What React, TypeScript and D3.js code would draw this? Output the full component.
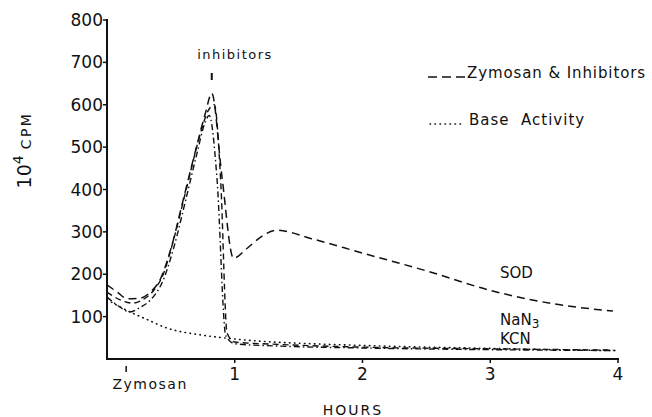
import React, { useRef, useEffect } from "react";
import * as d3 from "d3";

// Axis ticks
const yTicks = [100, 200, 300, 400, 500, 600, 700, 800];
const xTicks = [1, 2, 3, 4];

// Curves (hours, 10^4 CPM)
const sodHours = [0, 0.08, 0.16, 0.25, 0.34, 0.42, 0.5, 0.6, 0.7, 0.77, 0.82, 0.9, 0.99, 1.1, 1.2, 1.33, 1.6, 2.0, 2.5, 3.0, 3.5, 3.96];
const sodValues = [175, 158, 142, 143, 158, 190, 260, 380, 500, 580, 627, 430, 238, 262, 287, 304, 284, 250, 208, 162, 130, 113];

const nanHours = [0, 0.1, 0.2, 0.28, 0.36, 0.44, 0.52, 0.62, 0.72, 0.79, 0.84, 0.89, 0.94, 1.0, 1.3, 2.0, 3.0, 3.96];
const nanValues = [158, 140, 132, 140, 160, 200, 280, 400, 520, 585, 600, 420, 61, 40, 35, 28, 24, 21];

const kcnHours = [0, 0.09, 0.18, 0.26, 0.34, 0.44, 0.52, 0.62, 0.7, 0.77, 0.8, 0.86, 0.93, 1.0, 1.3, 2.0, 3.0, 3.98];
const kcnValues = [146, 125, 111, 122, 139, 186, 260, 380, 480, 560, 575, 430, 55, 36, 31, 26, 22, 20];

const baseHours = [0, 0.18, 0.3, 0.47, 0.73, 0.91, 1.2, 1.6, 2.0, 2.5, 3.0, 3.5, 3.98];
const baseValues = [140, 111, 95, 73, 57, 50, 42, 36, 32, 28, 25, 22, 20];

const zymosanAt = 0.15;
const inhibitorsAt = 0.82;

const FONT = "DejaVu Sans, sans-serif";

export default function App() {
  const svgRef = useRef<SVGSVGElement>(null);

  useEffect(() => {
    drawChart();
  }, []);

  function drawChart() {
    const svg = d3.select(svgRef.current);
    svg.selectAll("*").remove();

    const x = d3.scaleLinear().domain([0, 4]).range([107, 618]);
    const y = d3.scaleLinear().domain([0, 800]).range([359, 20]);

    // axes
    svg.append("line")
      .attr("x1", x(0)).attr("x2", x(0))
      .attr("y1", y(0) + 1).attr("y2", y(800) - 1)
      .attr("stroke", "#111").attr("stroke-width", 2);
    svg.append("line")
      .attr("x1", x(0) - 1).attr("x2", x(4) + 1)
      .attr("y1", y(0)).attr("y2", y(0))
      .attr("stroke", "#111").attr("stroke-width", 2);

    yTicks.forEach((t) => {
      svg.append("line")
        .attr("x1", x(0) - 4).attr("x2", x(0))
        .attr("y1", y(t)).attr("y2", y(t))
        .attr("stroke", "#111").attr("stroke-width", 1.5);
      svg.append("text")
        .attr("x", x(0) - 4)
        .attr("y", y(t) + 6)
        .attr("text-anchor", "end")
        .style("font-family", FONT)
        .style("font-size", "17px")
        .style("fill", "#111")
        .text(t);
    });

    xTicks.forEach((t) => {
      svg.append("line")
        .attr("x1", x(t)).attr("x2", x(t))
        .attr("y1", y(0)).attr("y2", y(0) + 4)
        .attr("stroke", "#111").attr("stroke-width", 1.5);
      svg.append("text")
        .attr("x", x(t))
        .attr("y", y(0) + 21)
        .attr("text-anchor", "middle")
        .style("font-family", FONT)
        .style("font-size", "17px")
        .style("fill", "#111")
        .text(t);
    });

    // zymosan marker
    svg.append("line")
      .attr("x1", x(zymosanAt)).attr("x2", x(zymosanAt))
      .attr("y1", y(0) + 7).attr("y2", y(0) + 13)
      .attr("stroke", "#111").attr("stroke-width", 1.5);
    svg.append("text")
      .attr("x", x(zymosanAt) + 24)
      .attr("y", y(0) + 30)
      .attr("text-anchor", "middle")
      .style("font-family", FONT)
      .style("font-size", "14px")
      .style("letter-spacing", "1.5px")
      .style("fill", "#111")
      .text("Zymosan");

    // inhibitors marker
    svg.append("line")
      .attr("x1", x(inhibitorsAt)).attr("x2", x(inhibitorsAt))
      .attr("y1", 73).attr("y2", 80)
      .attr("stroke", "#111").attr("stroke-width", 2);
    svg.append("text")
      .attr("x", 235)
      .attr("y", 59)
      .attr("text-anchor", "middle")
      .style("font-family", FONT)
      .style("font-size", "13px")
      .style("letter-spacing", "1.5px")
      .style("fill", "#111")
      .text("inhibitors");

    // axis titles
    svg.append("text")
      .attr("x", 353)
      .attr("y", 415)
      .attr("text-anchor", "middle")
      .style("font-family", FONT)
      .style("font-size", "14px")
      .style("letter-spacing", "2px")
      .style("fill", "#111")
      .text("HOURS");

    const yLabel = svg.append("text")
      .attr("transform", "translate(31,150) rotate(-90)")
      .attr("text-anchor", "middle")
      .style("font-family", FONT)
      .style("fill", "#111");
    yLabel.append("tspan").style("font-size", "19px").text("10");
    yLabel.append("tspan").style("font-size", "14px").attr("dy", -8).text("4");
    yLabel.append("tspan").style("font-size", "14px").attr("dy", 8).attr("dx", 6)
      .style("letter-spacing", "2.5px").text("CPM");

    // curves
    const line = d3.line<[number, number]>()
      .x((d) => x(d[0]))
      .y((d) => y(d[1]))
      .curve(d3.curveMonotoneX);

    const zip = (hs: number[], vs: number[]) => hs.map((h, i) => [h, vs[i]] as [number, number]);

    svg.append("path")
      .attr("d", line(zip(baseHours, baseValues)))
      .attr("fill", "none").attr("stroke", "#111").attr("stroke-width", 1.6)
      .attr("stroke-dasharray", "0.5 4.5").attr("stroke-linecap", "round");

    svg.append("path")
      .attr("d", line(zip(kcnHours, kcnValues)))
      .attr("fill", "none").attr("stroke", "#111").attr("stroke-width", 1.4)
      .attr("stroke-dasharray", "6 3 1.5 3");

    svg.append("path")
      .attr("d", line(zip(nanHours, nanValues)))
      .attr("fill", "none").attr("stroke", "#111").attr("stroke-width", 1.4)
      .attr("stroke-dasharray", "6 4");

    svg.append("path")
      .attr("d", line(zip(sodHours, sodValues)))
      .attr("fill", "none").attr("stroke", "#111").attr("stroke-width", 1.5)
      .attr("stroke-dasharray", "8 5");

    // curve labels
    const labelStyle = (t: d3.Selection<SVGTextElement, unknown, null, undefined>) =>
      t.style("font-family", FONT).style("font-size", "15px").style("fill", "#111");

    labelStyle(svg.append("text").attr("x", 500).attr("y", 278).text("SOD"));
    const nan = labelStyle(svg.append("text").attr("x", 500).attr("y", 325));
    nan.append("tspan").text("NaN");
    nan.append("tspan").attr("dy", 3).style("font-size", "12px").text("3");
    labelStyle(svg.append("text").attr("x", 500).attr("y", 344).text("KCN"));

    // legend
    svg.append("line")
      .attr("x1", 428).attr("x2", 466).attr("y1", 77).attr("y2", 77)
      .attr("stroke", "#111").attr("stroke-width", 1.6)
      .attr("stroke-dasharray", "9 5");
    svg.append("text")
      .attr("x", 467).attr("y", 78)
      .style("font-family", FONT).style("font-size", "15px")
      .style("letter-spacing", "0.9px").style("fill", "#111")
      .text("Zymosan & Inhibitors");

    svg.append("line")
      .attr("x1", 430).attr("x2", 464).attr("y1", 124).attr("y2", 124)
      .attr("stroke", "#111").attr("stroke-width", 1.6)
      .attr("stroke-dasharray", "0.5 4.5").attr("stroke-linecap", "round");
    svg.append("text")
      .attr("x", 469).attr("y", 125)
      .attr("xml:space", "preserve")
      .style("font-family", FONT).style("font-size", "15px")
      .style("letter-spacing", "1px").style("fill", "#111")
      .style("white-space", "pre")
      .text("Base  Activity");
  }

  return (
    <svg
      ref={svgRef}
      width={652}
      height={417}
      style={{ position: "absolute", left: 0, top: 0, background: "#fff" }}
    ></svg>
  );
}
